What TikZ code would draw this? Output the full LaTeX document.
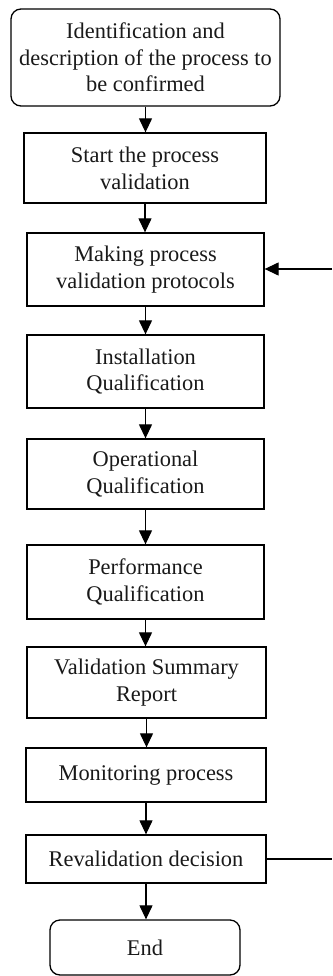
\documentclass[tikz,border=0pt]{standalone}
\usepackage{fontspec}
\setmainfont{Liberation Serif}
\usetikzlibrary{arrows.meta}
\begin{document}
\begin{tikzpicture}[x=1pt,y=-1pt,
  box/.style={draw, line width=1.3pt, align=center, inner sep=0pt,
    font=\fontsize{22.4}{26.7}\selectfont, text=black!90},
  rbox/.style={box, rounded corners=10pt},
  conn/.style={line width=1.2pt, -{Triangle[length=14pt,width=13pt]}}]
\useasboundingbox (0,0) rectangle (332,976);
\node[rbox, minimum width=269pt, minimum height=97pt] (n1) at (145.5,57.5)
  {Identification and\\description of the process to\\be confirmed};
\node[box, minimum width=242pt, minimum height=70pt] (n2) at (145,168)
  {Start the process\\validation};
\node[box, minimum width=237pt, minimum height=73pt] (n3) at (145.5,269.5)
  {Making process\\validation protocols};
\node[box, minimum width=237pt, minimum height=73pt] (n4) at (145.5,371.5)
  {Installation\\Qualification};
\node[box, minimum width=237pt, minimum height=70pt] (n5) at (145.5,474)
  {Operational\\Qualification};
\node[box, minimum width=237pt, minimum height=74pt] (n6) at (145.5,582)
  {Performance\\Qualification};
\node[box, minimum width=239pt, minimum height=71pt] (n7) at (146.5,682.5)
  {Validation Summary\\Report};
\node[box, minimum width=240pt, minimum height=54pt] (n8) at (146,775)
  {Monitoring process};
\node[box, minimum width=240pt, minimum height=48pt] (n9) at (146,859)
  {Revalidation decision};
\node[rbox, minimum width=190pt, minimum height=55pt] (n10) at (145,947.5)
  {End};
\coordinate (r1) at (332,269);
\coordinate (r2) at (332,859);
\foreach \a/\b in {n1/n2,n2/n3,n3/n4,n4/n5,n5/n6,n6/n7,n7/n8,n8/n9,n9/n10}
  \draw[conn] (\a.south) -- (\a.south |- \b.north);
\draw[conn] (r1) -- (n3.east |- r1);
\draw[line width=1.2pt] (n9.east) -- (r2);
\end{tikzpicture}
\end{document}
